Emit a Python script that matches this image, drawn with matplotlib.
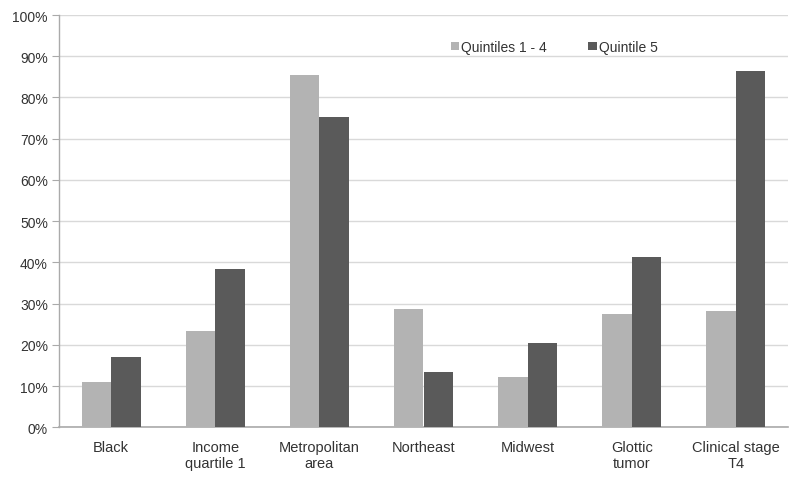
import matplotlib
matplotlib.use("Agg")
import matplotlib.pyplot as plt
import numpy as np
from matplotlib.ticker import PercentFormatter

categories = ["Black", "Income\nquartile 1", "Metropolitan\narea", "Northeast",
              "Midwest", "Glottic\ntumor", "Clinical stage\nT4"]
quintiles_1_4 = [10.9, 23.3, 85.5, 28.7, 12.1, 27.5, 28.3]
quintile_5 = [17.1, 38.4, 75.2, 13.5, 20.4, 41.3, 86.5]
series_names = ["Quintiles 1 - 4", "Quintile 5"]
y_ticks = list(range(0, 101, 10))

plt.rcParams['font.family'] = ['Liberation Sans', 'DejaVu Sans']

fig = plt.figure(figsize=(8, 4.81), dpi=100)
ax = fig.add_axes([0.07375, 0.1096, 0.985 - 0.07375, 0.9667 - 0.1096])

x = np.arange(len(categories))
w = 0.283
light = "#b3b3b3"
dark = "#5a5a5a"
ax.bar(x - w / 2, quintiles_1_4, w, color=light, label=series_names[0], zorder=3)
ax.bar(x + w / 2, quintile_5, w, color=dark, label=series_names[1], zorder=3)

ax.set_xlim(-0.5, len(categories) - 0.5)
ax.set_ylim(0, 100)
ax.set_yticks(y_ticks)
ax.yaxis.set_major_formatter(PercentFormatter(decimals=0))
ax.set_xticks(x)
ax.set_xticklabels(categories, fontsize=10.5, color="#333333", linespacing=1.2)
ax.tick_params(axis='x', length=0, pad=9)
ax.tick_params(axis='y', length=5, color="#aaaaaa", labelsize=10, labelcolor="#333333", pad=3)

ax.grid(axis='y', color="#d9d9d9", linewidth=1, zorder=0)
for s in ["top", "right"]:
    ax.spines[s].set_visible(False)
ax.spines["left"].set_color("#aaaaaa")
ax.spines["bottom"].set_color("#aaaaaa")
ax.spines["left"].set_linewidth(1)
ax.spines["bottom"].set_linewidth(1.2)

leg = ax.legend(loc="upper left", bbox_to_anchor=(0.52, 0.97), ncol=2, frameon=False,
                fontsize=10, handlelength=0.6, handleheight=0.6, handletextpad=0.15,
                columnspacing=3.0)
for t in leg.get_texts():
    t.set_color("#333333")

fig.savefig("out.png", dpi=100)
